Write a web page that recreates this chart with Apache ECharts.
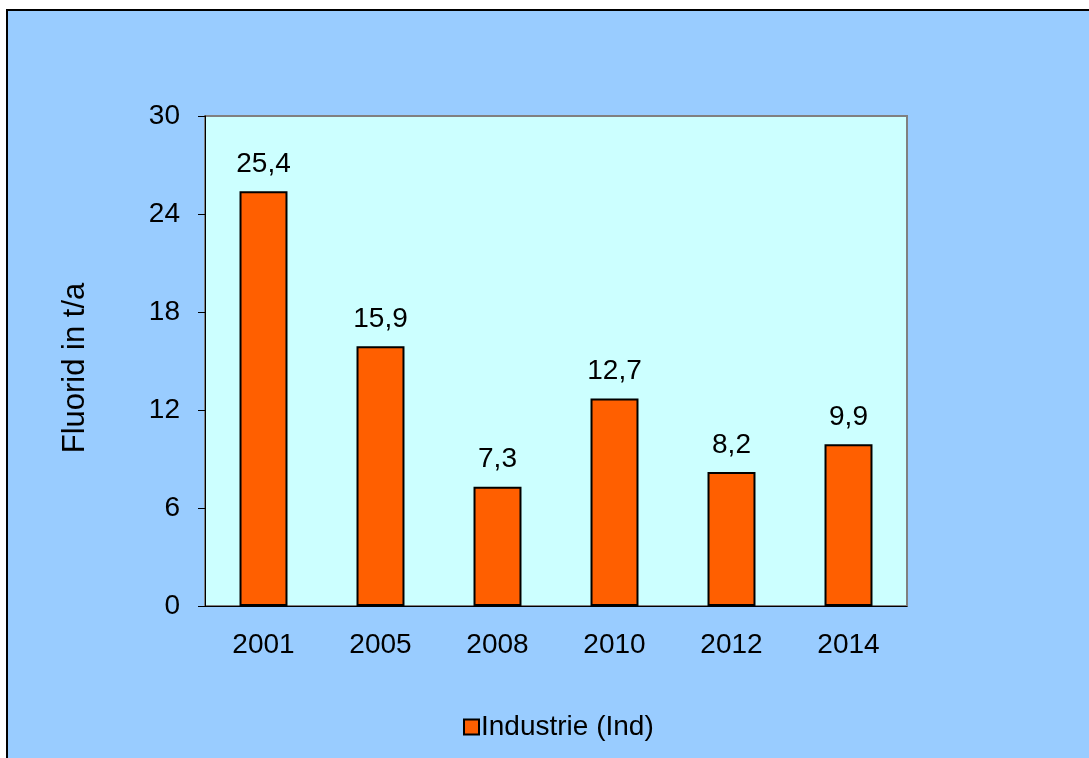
<!DOCTYPE html>
<html>
<head>
<meta charset="utf-8">
<title>Fluorid</title>
<script src="https://cdn.jsdelivr.net/npm/echarts@6/dist/echarts.min.js"></script>
<style>
  html, body { margin: 0; padding: 0; background: #fff; }
  #frame {
    position: absolute; left: 6px; top: 9px;
    border-left: 2px solid #000; border-top: 2px solid #000;
    background: #99CCFF;
  }
  #main { width: 1081px; height: 747px; }
</style>
</head>
<body>
<div id="frame"><div id="main"></div></div>
<script>
// Jahre und Werte (t/a)
var years = ['2001', '2005', '2008', '2010', '2012', '2014'];
var industrie = [25.4, 15.9, 7.3, 12.7, 8.2, 9.9];
var yTicks = [0, 6, 12, 18, 24, 30];

var font = 'Liberation Sans, Arial, sans-serif';
var fs = 28;
var myChart = echarts.init(document.getElementById('main'));

myChart.setOption({
    animation: false,
    textStyle: { fontFamily: font },
    grid: {
        left: 197, top: 105, right: 182, bottom: 152,
        show: true,
        backgroundColor: '#CCFFFF',
        borderColor: '#808080',
        borderWidth: 2
    },
    legend: {
        left: 450, top: 697,
        itemWidth: 15, itemHeight: 15,
        icon: 'rect',
        textStyle: { fontSize: fs, color: '#000', fontFamily: font, padding: [0, 0, 0, -3] },
        data: ['Industrie (Ind)']
    },
    xAxis: {
        type: 'category',
        data: years,
        axisLine: { lineStyle: { color: '#000', width: 1 } },
        axisTick: { length: 8, lineStyle: { color: '#000' } },
        axisLabel: { fontSize: fs, color: '#000', margin: 25 }
    },
    yAxis: {
        type: 'value',
        min: yTicks[0], max: yTicks[yTicks.length - 1], interval: 6,
        name: 'Fluorid in t/a',
        nameLocation: 'middle',
        nameGap: 114,
        nameTextStyle: { fontSize: 31, color: '#000', padding: [0, 14, 0, 0] },
        axisLine: { show: true, lineStyle: { color: '#000', width: 1 } },
        axisTick: { show: true, length: 7, lineStyle: { color: '#000' } },
        axisLabel: { fontSize: fs, color: '#000', margin: 25 },
        splitLine: { show: false }
    },
    series: [{
        name: 'Industrie (Ind)',
        type: 'bar',
        data: industrie,
        barWidth: '41%',
        itemStyle: { color: '#FF5F00', borderColor: '#000', borderWidth: 2 },
        label: {
            show: true,
            position: 'top',
            distance: 13,
            fontSize: fs,
            color: '#000',
            formatter: function (p) { return String(p.value).replace('.', ','); }
        }
    }]
});
</script>
</body>
</html>
